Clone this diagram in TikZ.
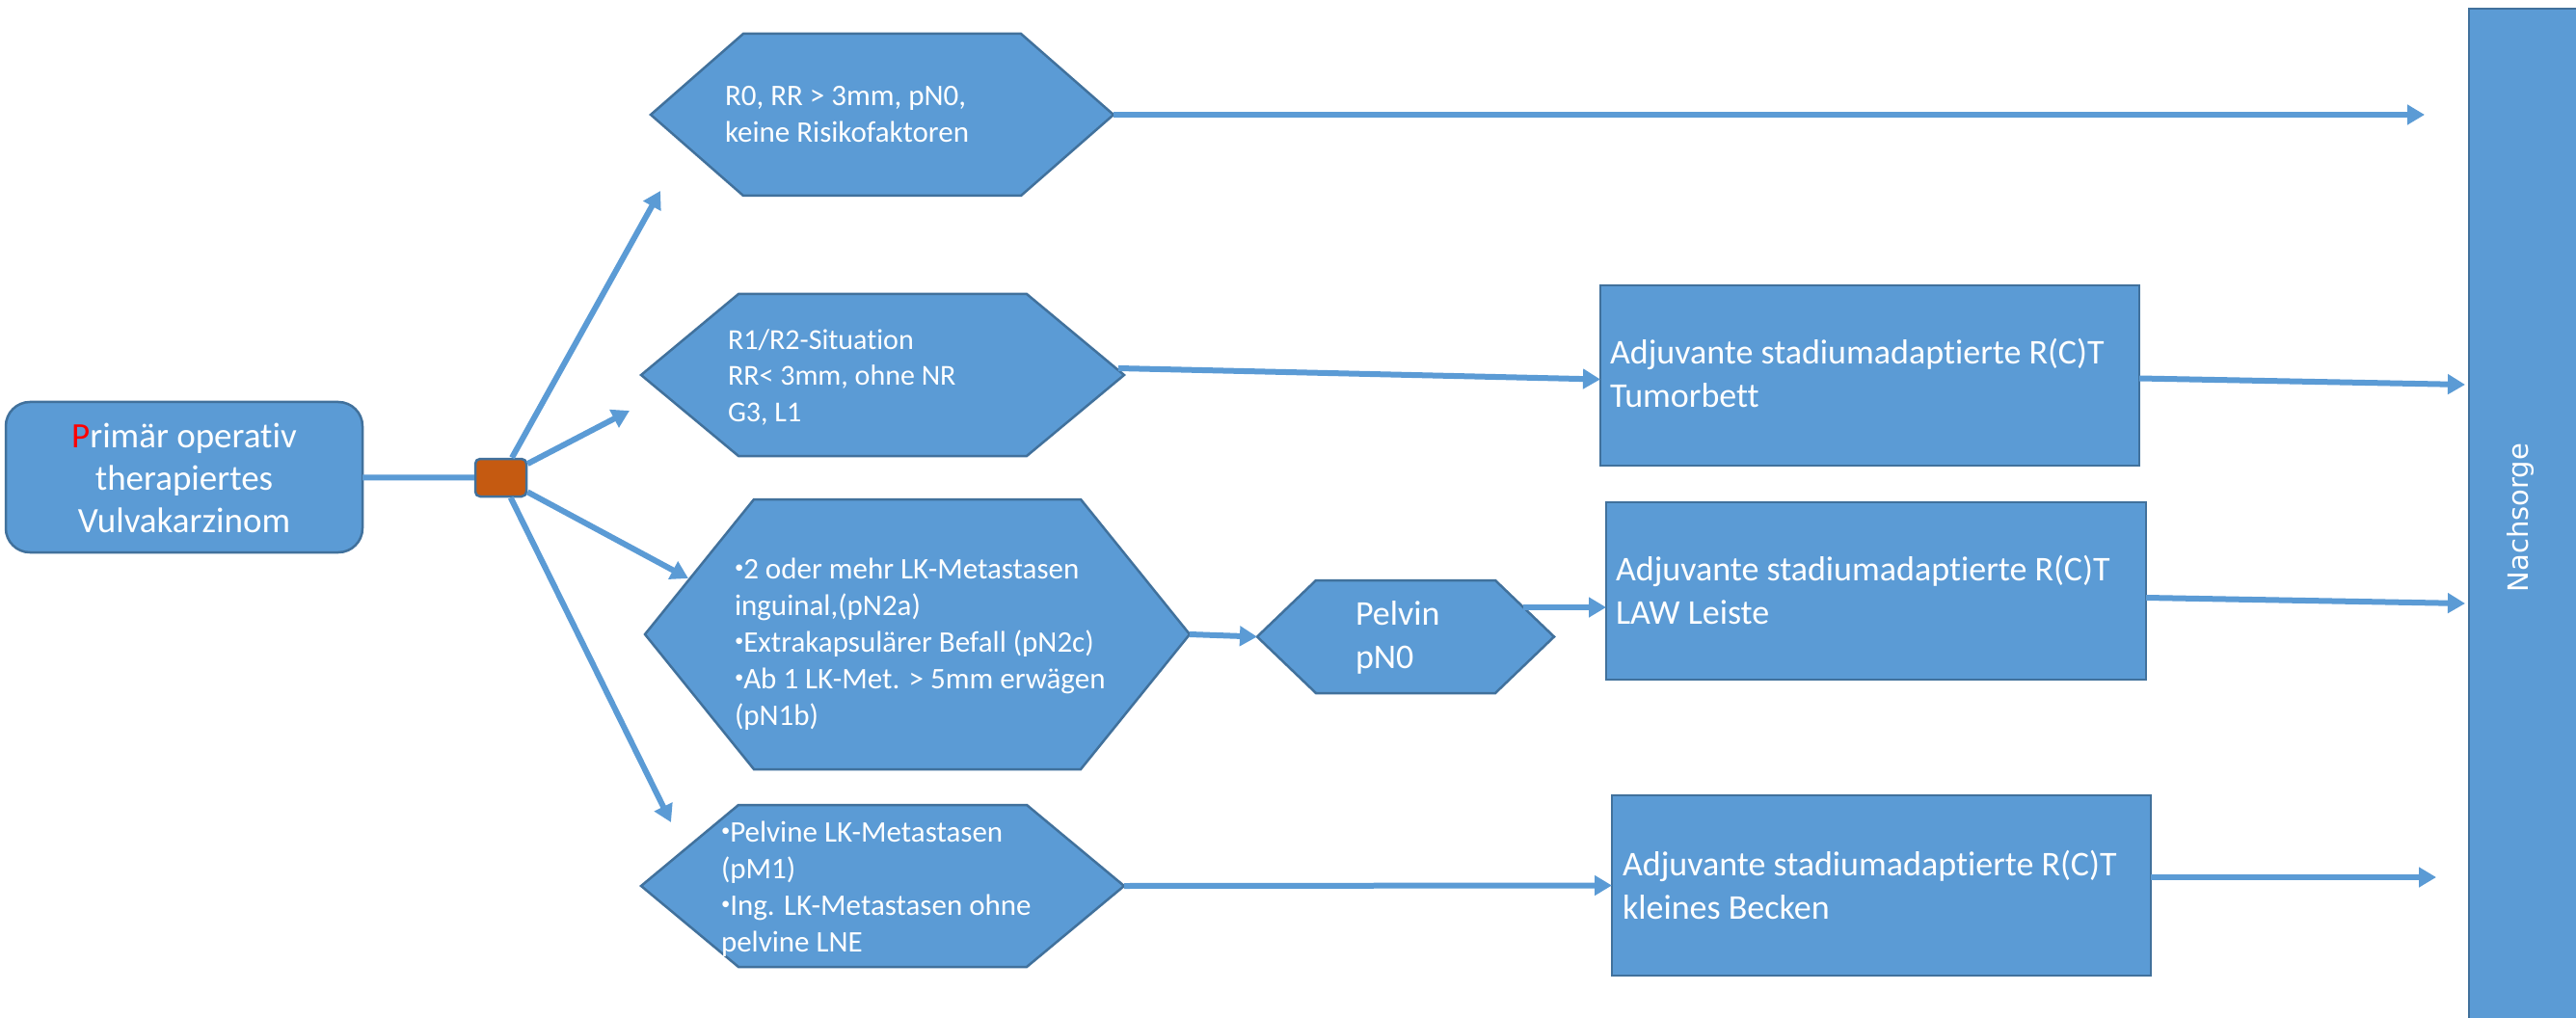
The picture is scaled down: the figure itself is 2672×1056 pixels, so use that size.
\documentclass[tikz,border=0pt]{standalone}
\usepackage{fontspec}
\setmainfont{Carlito}[Ligatures={NoCommon,NoContextual,NoRare}]
\newfontfamily\nachfont{DejaVu Sans}
\usetikzlibrary{arrows.meta,calc}
\definecolor{boxblue}{HTML}{5B9BD5}
\definecolor{edgeblue}{HTML}{41719C}
\definecolor{knotorange}{HTML}{C55A11}
\definecolor{pred}{HTML}{FF0000}
\newcommand\smbul{\raisebox{0.18em}{\scalebox{0.6}{•}}}
\newcommand\hexnode[6]{%
  \node[minimum width=#4pt, minimum height=#5pt, inner sep=0pt, outer sep=0pt] (#1) at (#2,#3) {};
  \draw[hexline] (#1.west) -- ([xshift=#6pt]#1.north west) -- ([xshift=-#6pt]#1.north east) -- (#1.east)
    -- ([xshift=-#6pt]#1.south east) -- ([xshift=#6pt]#1.south west) -- cycle;}
\begin{document}
\begin{tikzpicture}[x=1pt,y=-1pt,
  shapebox/.style={draw=edgeblue, fill=boxblue, line width=2.5pt, inner sep=0pt, outer sep=0pt},
  hexline/.style={draw=edgeblue, fill=boxblue, line width=2.5pt, line join=miter},
  txt/.style={text=white, inner sep=0pt, outer sep=0pt, align=left, anchor=north west},
  hexfont/.style={font=\fontsize{31}{38}\selectfont},
  boxfont/.style={font=\fontsize{36}{45}\selectfont},
  conn/.style={draw=boxblue, line width=6pt},
  arr/.style={conn, -{Triangle[length=18pt,width=20pt]}}]
\useasboundingbox (0,0) rectangle (2672,1056);
\fill[white] (0,0) rectangle (2672,1056);

% Nachsorge bar
\node[shapebox, minimum width=150pt, minimum height=1070pt, anchor=north west] (nach) at (2561,9) {};
\node[text=white, rotate=90, inner sep=0pt] (nachtext) at (2614,537) {{\nachfont\fontsize{29}{34}\selectfont Nachsorge}};

% start box
\node[shapebox, rounded corners=25pt, minimum width=370pt, minimum height=156pt] (start) at (191,495) {};
\node[txt, align=center, anchor=north, font=\fontsize{37}{44}\selectfont] (starttext) at (191,433.2)
  {\strut\textcolor{pred}{P}rimär operativ\\therapiertes\\Vulvakarzinom};

% knot
\node[draw=edgeblue, fill=knotorange, line width=2.5pt, rounded corners=5pt, minimum width=53pt, minimum height=39pt, inner sep=0pt] (knot) at (519.5,495.5) {};

% hexagons
\hexnode{hexA}{915}{119}{480}{168}{96}
\hexnode{hexB}{915.5}{389}{501}{168}{101}
\hexnode{hexC}{951.5}{658}{565}{280}{113}
\hexnode{pelvin}{1458}{660.5}{308}{117}{61}
\hexnode{hexD}{915.5}{919}{501}{168}{101}

\node[txt, hexfont] (textA) at (752,83.4) {\strut R0, RR > 3mm, pN0,\\keine Risikofaktoren};
\node[txt, font=\fontsize{30}{37.5}\selectfont] (textB) at (755,335.75) {\strut R1/R2-Situation\\RR< 3mm, ohne NR\\G3, L1};
\node[txt, hexfont] (textC) at (762,573.4) {\strut\smbul2 oder mehr LK-Metastasen\\inguinal,(pN2a)\\\smbul Extrakapsulärer Befall (pN2c)\\\smbul Ab 1 LK-Met. > 5mm erwägen\\(pN1b)};
\node[txt, hexfont] (textD) at (748,846.4) {\strut\smbul Pelvine LK-Metastasen\\(pM1)\\\smbul Ing. LK-Metastasen ohne\\pelvine LNE};
\node[txt, boxfont] (textP) at (1406,616.5) {\strut Pelvin\\pN0};

% therapy boxes
\node[shapebox, minimum width=559pt, minimum height=187pt] (boxA) at (1939.5,389.5) {};
\node[shapebox, minimum width=560pt, minimum height=184pt] (boxB) at (1946,613) {};
\node[shapebox, minimum width=559pt, minimum height=187pt] (boxC) at (1951.5,918.5) {};
\node[txt, boxfont] (textBA) at (1670,346.5) {\strut Adjuvante stadiumadaptierte R(C)T\\Tumorbett};
\node[txt, boxfont] (textBB) at (1676,570.5) {\strut Adjuvante stadiumadaptierte R(C)T\\LAW Leiste};
\node[txt, boxfont] (textBC) at (1683,876.5) {\strut Adjuvante stadiumadaptierte R(C)T\\kleines Becken};

% coordinates
\coordinate (tA) at (685,198);
\coordinate (tB) at (653,426);
\coordinate (tC) at (714,600);
\coordinate (tD) at (696,853);
\coordinate (eA) at (2515,119);
\coordinate (eB) at (2557,399);
\coordinate (eC) at (2557,626);
\coordinate (eD) at (2527,910);
\coordinate (pv) at (1580,630);

% connectors
\draw[conn] (start) -- (knot);
\draw[arr] (knot) -- (tA);
\draw[arr] (knot) -- (tB);
\draw[arr] (knot) -- (tC);
\draw[arr] (knot) -- (tD);
\draw[arr] (hexA.east) -- (eA);
\draw[arr] ($(hexB.east)+(-6,-7)$) -- ($(boxA.west)+(0,4)$);
\draw[arr] ($(boxA.east)+(0,3)$) -- (eB);
\draw[arr] (hexC.east) -- (pelvin.west);
\draw[arr] (pv) -- (pv -| boxB.west);
\draw[arr] ($(boxB.east)+(0,7)$) -- (eC);
\draw[arr] (hexD.east) -- (boxC.west);
\draw[arr] (boxC.east |- eD) -- (eD);
\end{tikzpicture}
\end{document}
